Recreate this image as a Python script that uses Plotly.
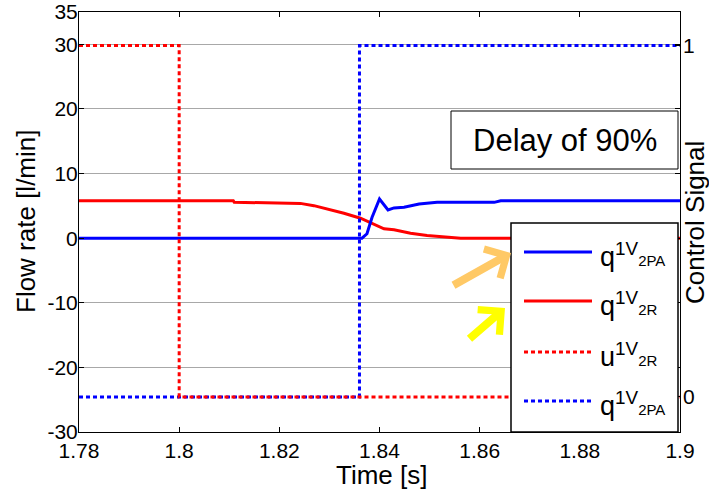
import plotly.graph_objects as go

# ---- data ----
t_q2R = [1.78, 1.8108, 1.811, 1.818, 1.82, 1.8242, 1.8269, 1.8295, 1.8329, 1.8362,
         1.8385, 1.8409, 1.8429, 1.8462, 1.8495, 1.8522, 1.8562, 1.9]
q2R = [5.8, 5.8, 5.55, 5.5, 5.45, 5.38, 5.03, 4.52, 3.85, 3.08,
       2.31, 1.45, 1.29, 0.77, 0.42, 0.26, 0.0, 0.0]

t_q2PA = [1.78, 1.8365, 1.8375, 1.8385, 1.8400, 1.8417, 1.8429, 1.8449, 1.8479,
          1.8515, 1.8629, 1.8642, 1.9]
q2PA = [0.0, 0.0, 0.68, 3.2, 6.06, 4.37, 4.68, 4.77, 5.29, 5.54, 5.54, 5.8, 5.8]

t_u2R = [1.78, 1.8, 1.8, 1.9]
u2R = [1, 1, 0, 0]

t_c2PA = [1.78, 1.836, 1.836, 1.9]
c2PA = [0, 0, 1, 1]

x_ticks = [1.78, 1.80, 1.82, 1.84, 1.86, 1.88, 1.90]
x_ticktext = ["1.78", "1.8", "1.82", "1.84", "1.86", "1.88", "1.9"]
y_ticks = [-30, -20, -10, 0, 10, 20, 30, 35]
y_ticktext = ["-30", "-20", "-10", "0", "10", "20", "30", "35"]
y2_ticks = [0, 1]
y2_ticktext = ["0", "1"]

legend_labels = [
    "q<sup>1V</sup><span style='font-size:15px'>2PA</span>",
    "q<sup>1V</sup><span style='font-size:15px'>2R</span>",
    "u<sup>1V</sup><span style='font-size:15px'>2R</span>",
    "q<sup>1V</sup><span style='font-size:15px'>2PA</span>",
]

# ---- layout geometry (pixels) ----
W, H = 709, 492
L, R, T, B = 79, 680, 12, 432
DOT = "4px,3px"
FONT = "Liberation Sans, Arial, sans-serif"


def px(x):
    return (x - L) / (R - L)


def py(y):
    return (B - y) / (B - T)


fig = go.Figure()
fig.add_trace(go.Scatter(x=t_q2R, y=q2R, mode="lines",
                         line=dict(color="#ff0000", width=3), showlegend=False))
fig.add_trace(go.Scatter(x=t_q2PA, y=q2PA, mode="lines",
                         line=dict(color="#0000ff", width=3), showlegend=False))
fig.add_trace(go.Scatter(x=t_c2PA, y=c2PA, mode="lines", yaxis="y2",
                         line=dict(color="#0000ff", width=3, dash=DOT), showlegend=False))
fig.add_trace(go.Scatter(x=t_u2R, y=u2R, mode="lines", yaxis="y2",
                         line=dict(color="#ff0000", width=3, dash=DOT), showlegend=False))

shapes = []
# Delay box
shapes.append(dict(type="rect", xref="paper", yref="paper", x0=px(451), x1=px(678),
                   y0=py(169), y1=py(111), fillcolor="white",
                   line=dict(color="black", width=1), layer="above"))
# legend box
shapes.append(dict(type="rect", xref="paper", yref="paper", x0=px(511), x1=px(678),
                   y0=py(432), y1=py(223), fillcolor="white",
                   line=dict(color="black", width=1.5), layer="above"))
row_y = [252, 301, 352, 401]
styles = [("#0000ff", None), ("#ff0000", None), ("#ff0000", DOT), ("#0000ff", DOT)]
for yy, (c, d) in zip(row_y, styles):
    ln = dict(color=c, width=3)
    if d:
        ln["dash"] = d
    shapes.append(dict(type="line", xref="paper", yref="paper", x0=px(524), x1=px(592),
                       y0=py(yy), y1=py(yy), line=ln, layer="above"))

annotations = []
for yy, lab in zip(row_y, legend_labels):
    annotations.append(dict(xref="paper", yref="paper", x=px(598), y=py(yy + 3),
                            xanchor="left", yanchor="middle", text=lab, showarrow=False,
                            font=dict(family=FONT, size=27, color="black")))
annotations.append(dict(xref="paper", yref="paper", x=px(564.5), y=py(140),
                        xanchor="center", yanchor="middle", text="Delay of 90%",
                        showarrow=False, font=dict(family=FONT, size=31, color="black")))
annotations.append(dict(xref="paper", yref="paper", x=px(26), y=py(221),
                        xanchor="center", yanchor="middle", text="Flow rate [l/min]",
                        textangle=-90, showarrow=False,
                        font=dict(family=FONT, size=26, color="black")))
annotations.append(dict(xref="paper", yref="paper", x=px(695), y=py(223),
                        xanchor="center", yanchor="middle", text="Control Signal",
                        textangle=-90, showarrow=False,
                        font=dict(family=FONT, size=26, color="black")))
annotations.append(dict(xref="paper", yref="paper", x=px(381), y=py(475),
                        xanchor="center", yanchor="middle", text="Time [s]",
                        showarrow=False, font=dict(family=FONT, size=26, color="black")))
# arrows
annotations.append(dict(xref="paper", yref="paper", x=px(511), y=py(253), ax=-59, ay=33,
                        text="", showarrow=True, arrowhead=4, arrowsize=0.8,
                        arrowwidth=8, arrowcolor="#ffc966", standoff=0))
annotations.append(dict(xref="paper", yref="paper", x=px(505), y=py(308), ax=-37, ay=32,
                        text="", showarrow=True, arrowhead=4, arrowsize=0.8,
                        arrowwidth=8, arrowcolor="#ffff00", standoff=0))

fig.update_layout(
    width=W, height=H,
    margin=dict(l=L, r=W - R, t=T, b=H - B, pad=0, autoexpand=False),
    paper_bgcolor="white", plot_bgcolor="white",
    font=dict(family=FONT, size=21, color="black"),
    showlegend=False,
    xaxis=dict(range=[1.78, 1.9], tickvals=x_ticks, ticktext=x_ticktext,
               ticks="inside", ticklen=5, tickcolor="black", showgrid=False,
               showline=True, linecolor="black", linewidth=1, mirror="ticks",
               zeroline=False, tickfont=dict(size=21), automargin=False),
    yaxis=dict(range=[-30, 35], tickvals=y_ticks, ticktext=y_ticktext,
               ticks="inside", ticklen=5,
               tickcolor="black", showgrid=True, gridcolor="#a8a8a8", gridwidth=1,
               showline=True, linecolor="black", linewidth=1, mirror="ticks",
               zeroline=False, tickfont=dict(size=21), automargin=False,
               ticklabelstandoff=-4),
    yaxis2=dict(range=[-0.0996, 1.0953], overlaying="y", side="right",
                tickvals=y2_ticks, ticktext=y2_ticktext, ticks="inside", ticklen=5,
                tickcolor="black",
                showgrid=False, showline=False, zeroline=False,
                tickfont=dict(size=21), automargin=False, ticklabelstandoff=2),
    shapes=shapes,
    annotations=annotations,
)

fig.write_html("out.html")
